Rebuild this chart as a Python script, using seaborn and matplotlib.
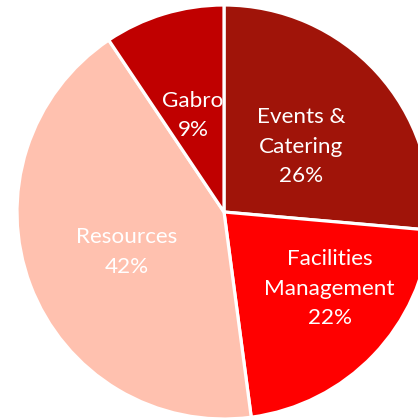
import numpy as np
import matplotlib
matplotlib.use("Agg")
import matplotlib.pyplot as plt
import seaborn as sns

categories = ["Events &\nCatering", "Facilities\nManagement", "Resources", "Gabro"]
values = [26.4, 21.5, 42.7, 9.4]          # slice shares
pct_labels = ["26%", "22%", "42%", "9%"]  # percentages printed on the chart
colors = ["#A01409", "#FF0000", "#FFC1AF", "#C00000"]
# label radius (fraction of pie radius) and angular nudge (deg) per slice
label_r = [0.49, 0.63, 0.51, 0.49]
label_nudge = [-2.3, 7.8, 1.7, 0.8]

sns.set_theme(style="white")
plt.rcParams["font.family"] = ["Lato", "DejaVu Sans"]

fig = plt.figure(figsize=(4.18, 4.20), dpi=100)
ax = fig.add_axes([0, 0, 1, 1])
pal = sns.color_palette(colors)
wedges, _ = ax.pie(values, colors=pal, startangle=90, counterclock=False,
                   radius=1.0, center=(0, 0),
                   wedgeprops=dict(edgecolor="white", linewidth=2.3))
for w, cat, p, r, nd in zip(wedges, categories, pct_labels, label_r, label_nudge):
    mid = np.deg2rad((w.theta1 + w.theta2) / 2 + nd)
    x, y = r * np.cos(mid), r * np.sin(mid)
    ax.text(x, y, f"{cat}\n{p}", ha="center", va="center",
            color="white", fontsize=16.2, linespacing=1.6)

ax.set_aspect("auto")
ax.set_xlim(-224 / 207, (418 - 224) / 207)
ax.set_ylim(-(420 - 212) / 207, 212 / 207)
ax.axis("off")
fig.savefig("out.png", dpi=100, facecolor="white")
